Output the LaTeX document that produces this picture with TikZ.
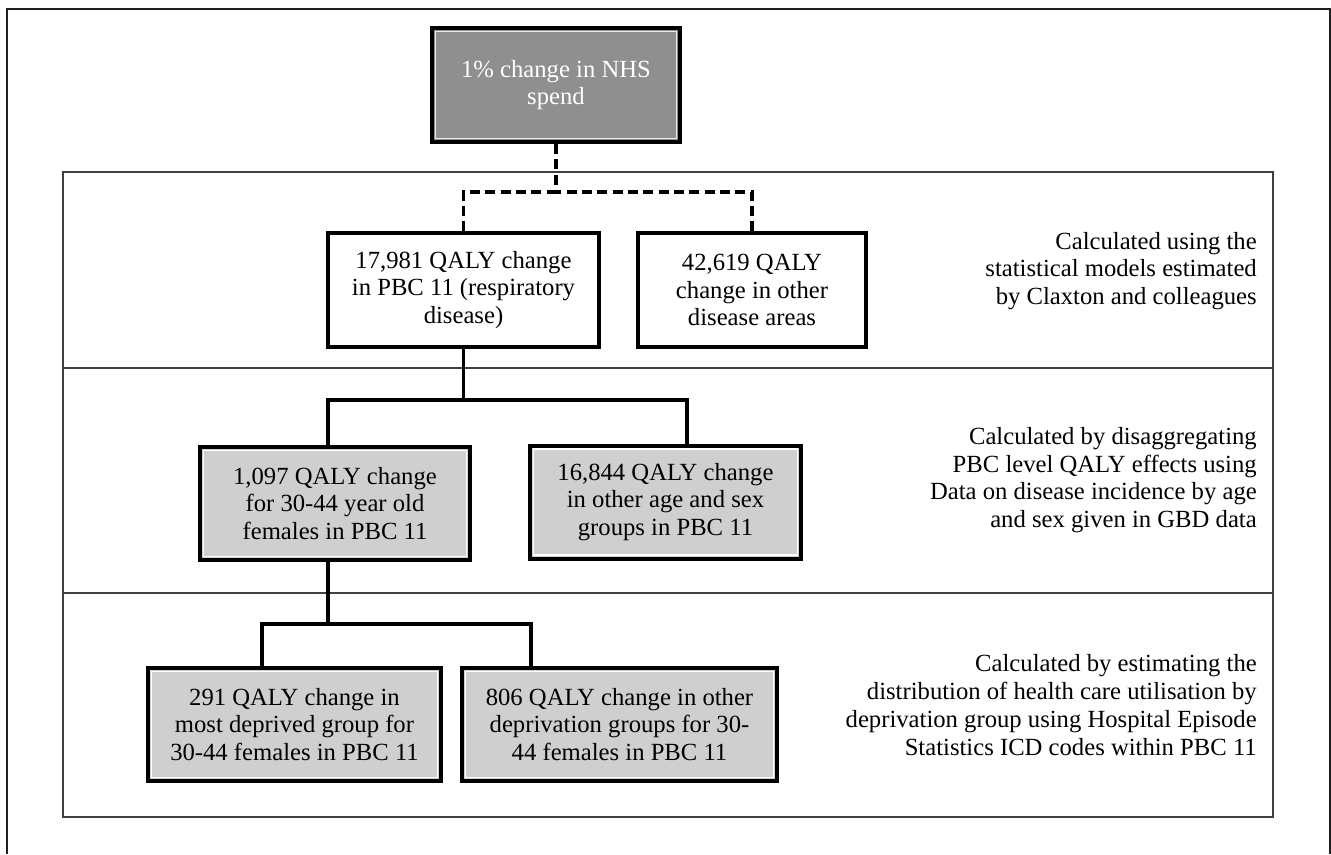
\documentclass[tikz,border=0pt]{standalone}
\usepackage{fontspec}
\setmainfont{Liberation Serif}
\begin{document}
\begin{tikzpicture}[x=0.75pt,y=-0.75pt,
  wh/.style 2 args={minimum width=#1*0.75pt, minimum height=#2*0.75pt},
  txt/.style={font=\fontsize{18.5}{20.8}\selectfont, align=center, inner sep=1pt},
  topbox/.style={txt, draw=black, line width=3pt, fill=black!44, text=white,
    path picture={\draw[white!85!gray, line width=0.9pt]
      ([shift={(2.6pt,2.6pt)}]path picture bounding box.south west) rectangle
      ([shift={(-2.6pt,-2.6pt)}]path picture bounding box.north east);}},
  whitebox/.style={txt, draw=black, line width=2.4pt, fill=white},
  greybox/.style={txt, draw=black, line width=3pt, fill=black!19,
    path picture={\draw[white, line width=0.9pt]
      ([shift={(2.6pt,2.6pt)}]path picture bounding box.south west) rectangle
      ([shift={(-2.6pt,-2.6pt)}]path picture bounding box.north east);}},
  note/.style={font=\fontsize{18.5}{20.8}\selectfont, align=right, inner sep=0pt, anchor=east},
  conn/.style={line width=2.6pt, black},
  dconn/.style={line width=2.8pt, black, dash pattern=on 7.5pt off 4pt},
  frameline/.style={line width=1.5pt, black!75}
]
\useasboundingbox[fill=white] (0,0) rectangle (1331,854);

% outer frame (open at the bottom)
\draw[line width=2.2pt, black!88] (7,854) -- (7,9) -- (1330,9) -- (1330,854);

% inner frame with section separators
\draw[frameline] (63,172) rectangle (1273,817);
\draw[frameline] (63,368) -- (1273,368);
\draw[frameline] (63,593) -- (1273,593);

% boxes
\node[topbox, wh={248}{114}] (top) at (556,85) {1\% change in NHS\\spend};

\node[whitebox, wh={271}{114}] (b1) at (463.5,290) {17,981 QALY change\\in PBC 11 (respiratory\\disease)};
\node[whitebox, wh={228}{114}] (b2) at (752,290) {42,619 QALY\\change in other\\disease areas};

\node[greybox, wh={270}{113}] (c1) at (335,503.5) {1,097 QALY change\\for 30-44 year old\\females in PBC 11};
\node[greybox, wh={271}{113}] (c2) at (665.5,502) {16,844 QALY change\\in other age and sex\\groups in PBC 11};

\node[greybox, wh={293}{113}] (d1) at (294.5,724.5) {291 QALY change in\\most deprived group for\\30-44 females in PBC 11};
\node[greybox, wh={315}{113}] (d2) at (619.5,724.5) {806 QALY change in other\\deprivation groups for 30-\\44 females in PBC 11};

% notes
\node[note] (n1) at (1257,271) {Calculated using the\\statistical models estimated\\by Claxton and colleagues};
\node[note] (n2) at (1257,480) {Calculated by disaggregating\\PBC level QALY effects using\\Data on disease incidence by age\\and sex given in GBD data};
\node[note] (n3) at (1257,705) {Calculated by estimating the\\distribution of health care utilisation by\\deprivation group using Hospital Episode\\Statistics ICD codes within PBC 11};

% connectors level 1 (dashed)
\coordinate (j1) at (556,192);
\draw[dconn] (top.south) -- (j1);
\draw[dconn] (b1.north) |- (j1);
\draw[dconn] (b2.north) |- (j1);

% connectors level 2
\coordinate (k1) at (328,400);
\coordinate (k2) at (687,400);
\draw[conn] (b1.south) -- (b1.south |- k1);
\draw[conn] (k1 |- c1.north) -- (k1) -- (k2) -- (k2 |- c2.north);

% connectors level 3
\coordinate (m0) at (328,624);
\coordinate (m1) at (262,624);
\coordinate (m2) at (531,624);
\draw[conn] (m0 |- c1.south) -- (m0);
\draw[conn] (m1 |- d1.north) -- (m1) -- (m2) -- (m2 |- d2.north);
\end{tikzpicture}
\end{document}
